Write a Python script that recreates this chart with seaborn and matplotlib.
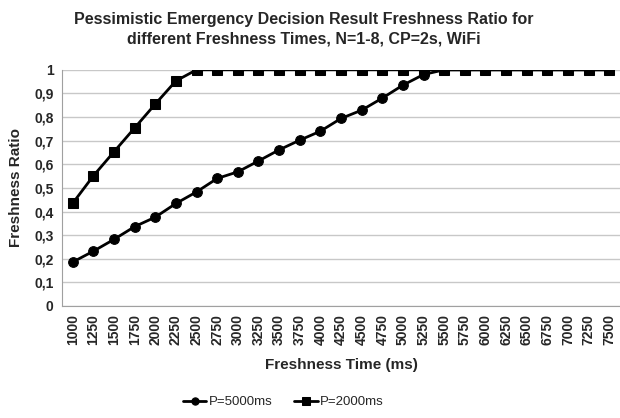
import numpy as np
import pandas as pd
import matplotlib
matplotlib.use("Agg")
import matplotlib.pyplot as plt
import seaborn as sns

# -------------------------------
# Data
# -------------------------------
freshness_times = list(range(1000, 7501, 250))

ratio_p5000 = [0.186, 0.232, 0.282, 0.336, 0.376, 0.434, 0.483, 0.54, 0.568,
               0.614, 0.661, 0.702, 0.74, 0.794, 0.829, 0.88, 0.935, 0.98,
               1, 1, 1, 1, 1, 1, 1, 1, 1]
ratio_p2000 = [0.435, 0.551, 0.653, 0.754, 0.855, 0.953, 1, 1, 1, 1, 1, 1, 1,
               1, 1, 1, 1, 1, 1, 1, 1, 1, 1, 1, 1, 1, 1]

series_names = ["P=5000ms", "P=2000ms"]

df = pd.DataFrame({
    "Freshness Time (ms)": freshness_times * 2,
    "Freshness Ratio": ratio_p5000 + ratio_p2000,
    "Series": [series_names[0]] * len(freshness_times) + [series_names[1]] * len(freshness_times),
})

# -------------------------------
# Plot
# -------------------------------
sns.set_style("white")
plt.rcParams["font.family"] = ["Liberation Sans", "DejaVu Sans"]

fig = plt.figure(figsize=(6.2, 4.18), dpi=100)
ax = fig.add_axes([0.1, 0.268, 0.9, 0.565])

sns.lineplot(data=df, x="Freshness Time (ms)", y="Freshness Ratio",
             hue="Series", style="Series",
             palette=["black", "black"], markers=["o", "s"], dashes=False,
             markersize=7, linewidth=2, markeredgecolor="black",
             ax=ax, legend=True)

ax.set_xlim(1000 - 130, 7500 + 130)
ax.set_ylim(0, 1)
ax.set_xticks(freshness_times)
ax.set_xticklabels([str(t) for t in freshness_times], rotation=90,
                   fontsize=10, fontweight="bold")
yticks = np.round(np.arange(0, 1.01, 0.1), 1)
ax.set_yticks(yticks)
ax.set_yticklabels([("%g" % v).replace(".", ",") for v in yticks],
                   fontsize=10, fontweight="bold")
ax.tick_params(length=0, pad=6)

ax.yaxis.grid(True, color="#c8c8c8", linewidth=1)
ax.set_axisbelow(True)
for side in ["top", "right"]:
    ax.spines[side].set_visible(False)
ax.spines["left"].set_color("#a0a0a0")
ax.spines["bottom"].set_color("#a0a0a0")

ax.set_xlabel("Freshness Time (ms)", fontsize=11, fontweight="bold", labelpad=9)
ax.set_ylabel("Freshness Ratio", fontsize=11, fontweight="bold", labelpad=8)

fig.suptitle("Pessimistic Emergency Decision Result Freshness Ratio for\n"
             "different Freshness Times, N=1-8, CP=2s, WiFi",
             x=0.49, y=0.972, fontsize=11.5, fontweight="bold", linespacing=1.4)

handles, labels = ax.get_legend_handles_labels()
leg = ax.legend(handles, labels, loc="lower center", ncol=2, frameon=False,
                fontsize=9.5, handlelength=1.8, columnspacing=1.6,
                handletextpad=0.2, markerscale=0.75,
                bbox_to_anchor=(0.457, -0.005), bbox_transform=fig.transFigure)

fig.savefig("out.png", dpi=100, facecolor="white")
